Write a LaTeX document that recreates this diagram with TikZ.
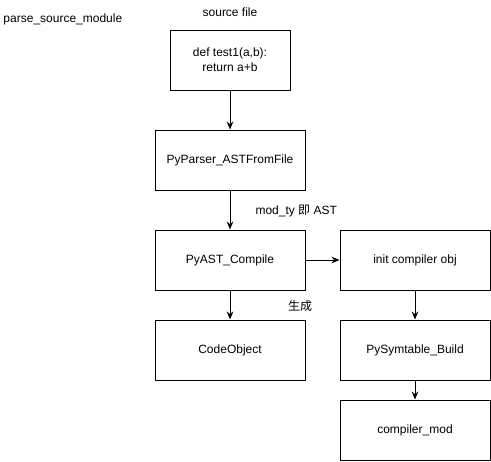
\documentclass[tikz,border=0pt]{standalone}
\usepackage{fontspec}
\setmainfont{Liberation Sans}
\newfontfamily\cjk{Noto Sans CJK SC}
\usetikzlibrary{arrows.meta}

\begin{document}
\begin{tikzpicture}[
  x=0.75pt, y=-0.75pt, % 1 unit = 1 pixel, y down
  font=\fontsize{9pt}{11pt}\selectfont,
  line width=0.75pt,
  box/.style={draw, minimum width=112.5pt, minimum height=45pt, inner sep=2pt},
  flow/.style={-{Stealth[length=6pt, width=5pt]}}
]
  % ---- page size ----
  \def\W{491}
  \def\H{461}
  \useasboundingbox (0,0) rectangle (\W,\H);

  % ---- titles ----
  \node[anchor=west, inner sep=0pt] (title) at (3,19) {parse\_source\_module};
  \node[inner sep=0pt] (src) at (230,12) {source file};

  % ---- left column ----
  \node[box, minimum width=90pt, align=center] (code) at (230,60) {def test1(a,b):\\ return a+b};
  \node[box] (parser) at (230,160) {PyParser\_ASTFromFile};
  \node[box] (compile) at (230,260) {PyAST\_Compile};
  \node[box] (codeobj) at (230,350) {CodeObject};

  % ---- right column ----
  \node[box] (init) at (415,260) {init compiler obj};
  \node[box] (symtable) at (415,350) {PySymtable\_Build};
  \node[box] (mod) at (415,430) {compiler\_mod};

  % ---- arrows ----
  \draw[flow] (code) -- (parser);
  \draw[flow] (parser) -- (compile);
  \draw[flow] (compile) -- (codeobj);
  \draw[flow] (compile) -- (init);
  \draw[flow] (init) -- (symtable);
  \draw[flow] (symtable) -- (mod);

  % ---- edge labels ----
  \node[anchor=west, inner sep=0pt] (ast) at (255,211) {mod\_ty {\cjk 即} AST};
  \node[inner sep=0pt] (gen) at (300,306) {\cjk 生成};

\end{tikzpicture}
\end{document}
